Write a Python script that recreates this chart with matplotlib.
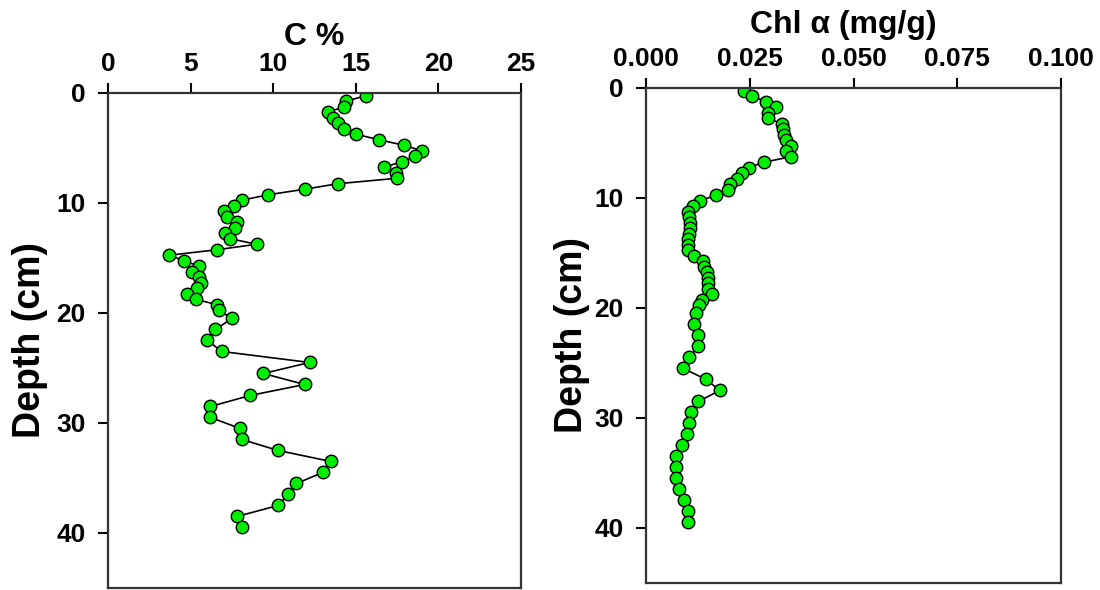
import numpy as np
import matplotlib
matplotlib.use("Agg")
import matplotlib.pyplot as plt

plt.rcParams['font.family'] = ['Liberation Sans', 'DejaVu Sans']
plt.rcParams['font.weight'] = 'bold'

# depths: 0.5 cm steps down to 20 cm, then 1 cm steps
depth = [0.25, 0.75, 1.25, 1.75, 2.25, 2.75, 3.25, 3.75, 4.25, 4.75,
         5.25, 5.75, 6.25, 6.75, 7.25, 7.75, 8.25, 8.75, 9.25, 9.75,
         10.25, 10.75, 11.25, 11.75, 12.25, 12.75, 13.25, 13.75, 14.25, 14.75,
         15.25, 15.75, 16.25, 16.75, 17.25, 17.75, 18.25, 18.75, 19.25, 19.75,
         20.5, 21.5, 22.5, 23.5, 24.5, 25.5, 26.5, 27.5, 28.5, 29.5,
         30.5, 31.5, 32.5, 33.5, 34.5, 35.5, 36.5, 37.5, 38.5, 39.5]

carbon = [15.6, 14.4, 14.3, 13.3, 13.6, 13.9, 14.3, 15.0, 16.4, 17.9,
          19.0, 18.6, 17.8, 16.7, 17.4, 17.5, 13.9, 11.9, 9.7, 8.1,
          7.6, 7.0, 7.2, 7.8, 7.7, 7.1, 7.4, 9.0, 6.6, 3.7,
          4.6, 5.5, 5.1, 5.5, 5.6, 5.4, 4.8, 5.3, 6.6, 6.7,
          7.5, 6.5, 6.0, 6.9, 12.2, 9.4, 11.9, 8.6, 6.2, 6.2,
          8.0, 8.1, 10.3, 13.5, 13.0, 11.4, 10.9, 10.3, 7.8, 8.1]

chl = [0.0236, 0.0256, 0.0289, 0.0313, 0.0295, 0.0293, 0.0327, 0.0329, 0.0333, 0.0337,
       0.0349, 0.0337, 0.0349, 0.0284, 0.0247, 0.0231, 0.0220, 0.0202, 0.0197, 0.0169,
       0.0130, 0.0112, 0.0102, 0.0104, 0.0106, 0.0106, 0.0104, 0.0102, 0.0100, 0.0100,
       0.0116, 0.0138, 0.0140, 0.0146, 0.0150, 0.0150, 0.0150, 0.0158, 0.0134, 0.0128,
       0.0120, 0.0116, 0.0126, 0.0126, 0.0104, 0.0090, 0.0145, 0.0178, 0.0126, 0.0108,
       0.0104, 0.0098, 0.0087, 0.0072, 0.0072, 0.0072, 0.0080, 0.0092, 0.0102, 0.0100]

c_ticks = [0, 5, 10, 15, 20, 25]
chl_ticks = [0.000, 0.025, 0.050, 0.075, 0.100]
depth_ticks = [0, 10, 20, 30, 40]

fig = plt.figure(figsize=(11, 5.9), dpi=100)
ax1 = fig.add_axes([0.0982, 0.0034, 0.3755, 0.839])
ax2 = fig.add_axes([0.5873, 0.0119, 0.3773, 0.839])


def style(ax, xticks, xlim, fmt):
    ax.set_xlim(xlim)
    ax.set_ylim(45, 0)
    ax.xaxis.tick_top()
    ax.set_xticks(xticks)
    ax.set_xticklabels([fmt.format(t) for t in xticks])
    ax.set_yticks(depth_ticks)
    ax.tick_params(axis='x', direction='out', length=7, width=1.5, pad=5, labelsize=19)
    ax.tick_params(axis='y', direction='out', length=7, width=1.5, pad=9, labelsize=19)
    for s in ax.spines.values():
        s.set_linewidth(1.6)
        s.set_color('#333333')
    ax.set_ylabel('Depth (cm)', fontsize=27, fontweight='bold')


ax1.plot(carbon, depth, color='black', lw=1.2, marker='o', ms=9,
         mfc='#00ee00', mec='black', mew=1.0)
style(ax1, c_ticks, (0, 25), '{:g}')
ax1.yaxis.set_label_coords(-0.145, 0.5)
ax1.text(0.5, 1.097, 'C %', transform=ax1.transAxes, ha='center', va='baseline',
         fontsize=23, fontweight='bold')

ax2.plot(chl, depth, color='black', lw=1.2, marker='o', ms=9,
         mfc='#00ee00', mec='black', mew=1.0)
style(ax2, chl_ticks, (0, 0.1), '{:.3f}')
ax2.yaxis.set_label_coords(-0.135, 0.5)
ax2.text(0.475, 1.111, 'Chl α (mg/g)', transform=ax2.transAxes, ha='center', va='baseline',
         fontsize=23, fontweight='bold')

fig.savefig('out.png', dpi=100)
